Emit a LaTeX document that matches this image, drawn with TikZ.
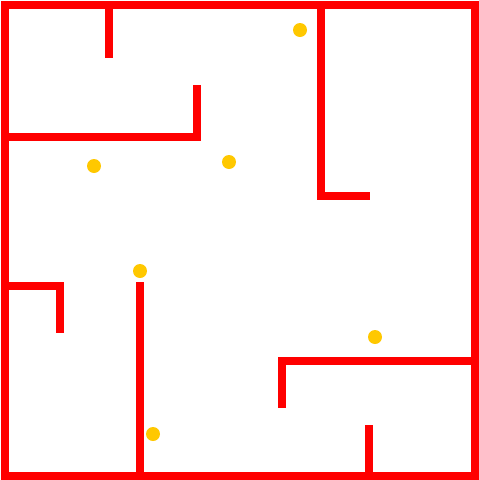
\documentclass[tikz,border=0pt]{standalone}
\definecolor{wallred}{HTML}{FF0000}
\definecolor{coin}{HTML}{FFC800}
\tikzset{
  wall/.style={draw=wallred, line width=8pt, line cap=butt, line join=miter},
  coindot/.style={fill=coin, draw=none}
}
\begin{document}
\begin{tikzpicture}[x=1pt,y=-1pt]
\useasboundingbox (0,0) rectangle (479,480);
\fill[white] (0,0) rectangle (479,480);
% outer border
\draw[wall] (5,5) rectangle (475,476);
% inner walls
\draw[wall] (109,1) -- (109,58);
\draw[wall] (1,137) -- (197,137) -- (197,85);
\draw[wall] (321,1) -- (321,196) -- (370,196);
\draw[wall] (1,286) -- (60,286) -- (60,333);
\draw[wall] (140,282) -- (140,478);
\draw[wall] (475,361) -- (282,361) -- (282,408);
\draw[wall] (369,425) -- (369,478);
% coins
\foreach \p in {(300,30),(94,166),(229,162),(140,271),(375,337),(153,434)}
  \fill[coindot] \p circle (7);
\end{tikzpicture}
\end{document}
